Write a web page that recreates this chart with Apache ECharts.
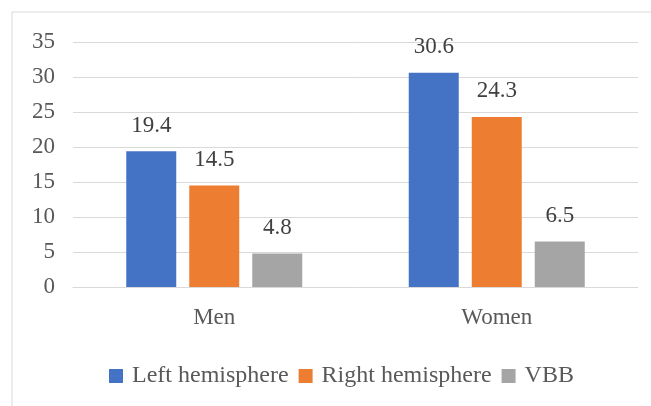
<!DOCTYPE html>
<html>
<head>
<meta charset="utf-8">
<script src="https://cdn.jsdelivr.net/npm/echarts@6/dist/echarts.min.js"></script>
<style>
  html, body { margin: 0; padding: 0; background: #fff; }
  #chart { width: 651px; height: 406px; }
</style>
</head>
<body>
<div id="chart"></div>
<script>
var categories = ['Men', 'Women'];
var leftHemisphere = [19.4, 30.6];
var rightHemisphere = [14.5, 24.3];
var vbb = [4.8, 6.5];

var dom = document.getElementById('chart');
var myChart = echarts.init(dom, null, { renderer: 'canvas' });

var font = "'Liberation Serif', 'Times New Roman', serif";
var textColor = '#595959';

function bar(name, data, color) {
    return {
        name: name,
        type: 'bar',
        data: data,
        barWidth: 50,
        barGap: '26%',
        itemStyle: { color: color },
        label: {
            show: true,
            position: 'top',
            distance: 14,
            color: '#404040',
            fontFamily: font,
            fontSize: 23
        }
    };
}

var option = {
    animation: false,
    graphic: [{
        type: 'rect',
        shape: { x: 12, y: 12, width: 700, height: 450 },
        style: { fill: 'none', stroke: '#d9d9d9', lineWidth: 1 },
        silent: true
    }],
    grid: { left: 73, right: 13, top: 42, bottom: 119 },
    legend: {
        bottom: 13,
        left: 104,
        itemWidth: 14,
        itemHeight: 14,
        itemGap: 10,
        icon: 'rect',
        textStyle: { color: textColor, fontFamily: font, fontSize: 24, padding: [0, 0, 0, 4] }
    },
    xAxis: {
        type: 'category',
        data: categories,
        axisLine: { lineStyle: { color: '#d9d9d9', width: 1 } },
        axisTick: { show: false },
        axisLabel: { color: textColor, fontFamily: font, fontSize: 23, margin: 19 }
    },
    yAxis: {
        type: 'value',
        min: 0,
        max: 35,
        interval: 5,
        axisLine: { show: false },
        axisTick: { show: false },
        splitLine: { lineStyle: { color: '#d9d9d9', width: 1 } },
        axisLabel: { color: textColor, fontFamily: font, fontSize: 23, margin: 18 }
    },
    series: [
        bar('Left hemisphere', leftHemisphere, '#4472C4'),
        bar('Right hemisphere', rightHemisphere, '#ED7D31'),
        bar('VBB', vbb, '#A5A5A5')
    ]
};

myChart.setOption(option);
window.addEventListener('resize', myChart.resize);
</script>
</body>
</html>
